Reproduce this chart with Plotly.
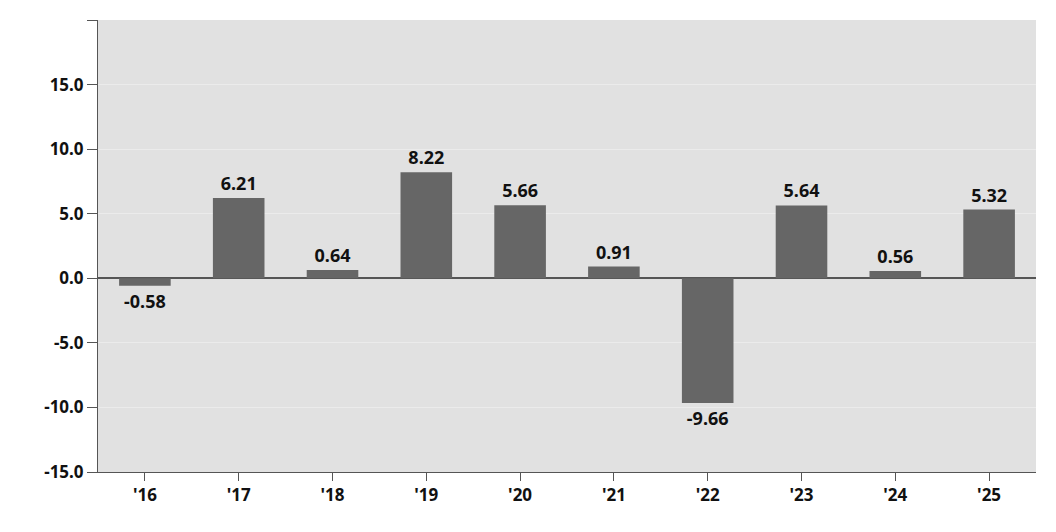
import plotly.graph_objects as go

years = ["'16", "'17", "'18", "'19", "'20", "'21", "'22", "'23", "'24", "'25"]
returns = [-0.58, 6.21, 0.64, 8.22, 5.66, 0.91, -9.66, 5.64, 0.56, 5.32]
y_ticks = [20, 15, 10, 5, 0, -5, -10, -15]

fig = go.Figure(go.Bar(
    x=years, y=returns,
    marker=dict(color="#666666", line=dict(width=0)),
    text=[f"{v:.2f}" for v in returns],
    textposition="outside", cliponaxis=False,
    textfont=dict(size=18, color="#111111", family="Noto Sans", weight="bold"),
    width=0.55,
))
fig.update_layout(
    width=1056, height=532,
    margin=dict(l=90, r=28, t=12, b=68),
    paper_bgcolor="white", plot_bgcolor="#e1e1e1",
    font=dict(family="Noto Sans", size=17, color="#111111"),
    showlegend=False,
)
fig.update_yaxes(
    range=[-15, 20], tickvals=y_ticks, ticktext=[f"{v:.1f}" for v in y_ticks],
    showgrid=True, gridcolor="#ebebeb", gridwidth=1,
    zeroline=True, zerolinecolor="#555555", zerolinewidth=1.5,
    showline=True, linecolor="#555555", ticks="outside", ticklen=10,
    tickcolor="#555555", tickfont=dict(size=17, family="Noto Sans", weight="bold"),
)
fig.update_xaxes(
    showline=True, linecolor="#555555", ticks="outside", ticklen=8,
    tickcolor="#555555", tickfont=dict(size=17, family="Noto Sans", weight="bold"),
)
fig.write_html("out.html")
